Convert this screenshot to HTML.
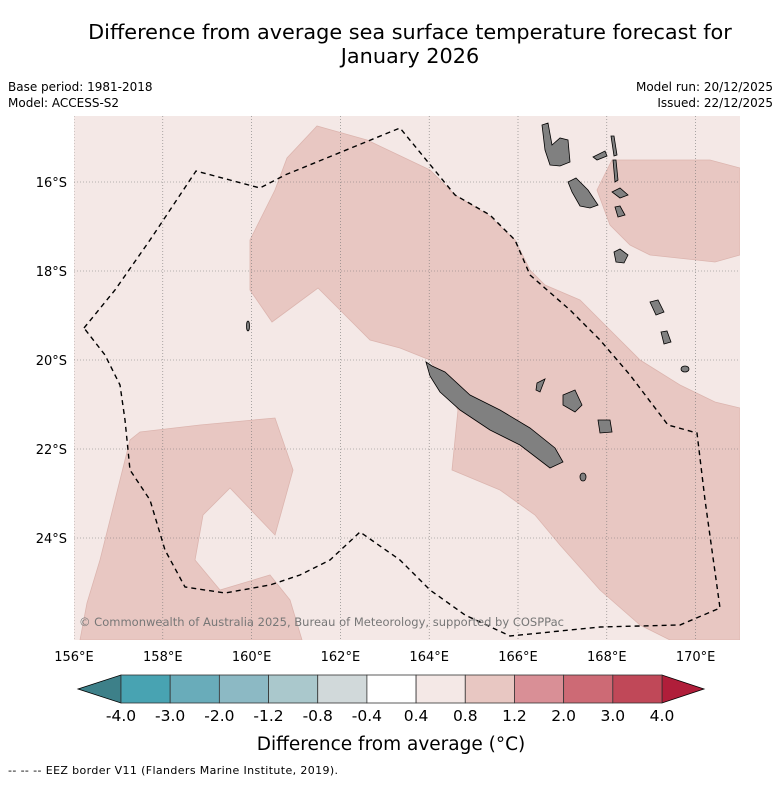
<!DOCTYPE html>
<html><head><meta charset="utf-8"><style>
body{margin:0;background:#fff;width:781px;height:781px;overflow:hidden;font-family:"DejaVu Sans","Liberation Sans",sans-serif}
svg text{font-family:"DejaVu Sans","Liberation Sans",sans-serif}
</style></head><body>
<svg width="781" height="781" xmlns="http://www.w3.org/2000/svg">
<text x="410" y="39" font-size="20.8" text-anchor="middle">Difference from average sea surface temperature forecast for</text>
<text x="410" y="63" font-size="20.8" text-anchor="middle">January 2026</text>
<text x="8" y="91" font-size="12">Base period: 1981-2018</text>
<text x="8" y="107" font-size="12">Model: ACCESS-S2</text>
<text x="773" y="91" font-size="12" text-anchor="end">Model run: 20/12/2025</text>
<text x="773" y="107" font-size="12" text-anchor="end">Issued: 22/12/2025</text>
<defs><clipPath id="mc"><rect x="74" y="116" width="666" height="524"/></clipPath></defs>
<g clip-path="url(#mc)">
<rect x="74" y="116" width="666" height="524" fill="#f4e8e6"/>
<g fill="#e8c7c2" stroke="#dcb5af" stroke-width="0.8">
<polygon points="250,240 275,190 287,158 317,126 367,140 430,170 455,195 488,215 515,240 530,270 545,285 580,300 610,330 640,360 680,385 715,402 740,408 740,640 670,640 640,625 600,590 560,545 535,515 500,490 452,470 458,410 430,360 400,348 370,340 340,310 318,288 272,322 250,290"/>
<polygon points="597,190 612,160 650,160 710,160 740,168 740,255 715,262 650,255 630,245 610,225"/>
<polygon points="87,603 100,560 115,500 130,440 140,432 200,425 275,418 293,470 275,535 230,488 203,515 195,560 220,590 270,575 290,600 302,640 80,640"/>
</g>
<g id="grid" stroke="#777" stroke-width="0.6" stroke-dasharray="1,2"></g>
<g fill="#808080" stroke="#000" stroke-width="0.8">
<polygon points="426,362 432,366 445,372 470,395 500,410 530,428 555,448 563,462 550,468 520,445 490,430 460,410 440,392 430,376"/>
<polygon points="542,125 548,123 552,145 560,138 568,140 570,162 560,166 550,165 545,150"/>
<polygon points="568,182 576,178 588,190 598,205 590,208 580,206 572,192"/>
<polygon points="612,192 620,188 628,195 620,198"/>
<polygon points="615,207 620,206 625,215 618,217"/>
<polygon points="614,252 620,249 628,255 624,263 616,262"/>
<polygon points="611,136 614,136 617,155 614,156"/>
<polygon points="593,157 605,151 607,156 597,160"/>
<polygon points="613,160 616,160 618,180 615,182"/>
<polygon points="563,395 575,390 582,405 575,412 563,405"/>
<polygon points="598,420 610,420 612,432 600,433"/>
<polygon points="537,383 545,379 540,392 536,390"/>
<polygon points="650,302 658,300 664,312 656,315"/>
<polygon points="661,332 667,331 671,342 664,344"/>
<ellipse cx="685" cy="369" rx="4" ry="3"/>
<ellipse cx="583" cy="477" rx="3" ry="4"/>
<ellipse cx="248" cy="326" rx="1.5" ry="5"/>
</g>
<polyline fill="none" stroke="#000" stroke-width="1.4" stroke-dasharray="5,4" points="84,328 115,290 150,240 196,171 260,188 285,175 400,128 455,195 490,215 515,240 530,275 570,310 600,340 630,375 668,425 697,433 705,500 720,608 680,625 600,627 510,636 465,615 430,590 400,560 360,532 330,560 300,575 270,585 225,593 185,587 165,550 150,500 130,470 125,420 120,385 105,355 84,328"/>
<text x="79" y="626" font-size="11.5" fill="#777" textLength="485">© Commonwealth of Australia 2025, Bureau of Meteorology, supported by COSPPac</text>
</g>
<g id="ticks"></g>
<g id="cbar"></g>
<text x="391" y="750" font-size="18.5" text-anchor="middle">Difference from average (°C)</text>
<text x="8" y="774" font-size="11" textLength="330">--  --  -- EEZ border V11 (Flanders Marine Institute, 2019).</text>
</svg>
<script>
const lons=[156,158,160,162,164,166,168,170];
const lats=[16,18,20,22,24];
const cbTicks=["-4.0","-3.0","-2.0","-1.2","-0.8","-0.4","0.4","0.8","1.2","2.0","3.0","4.0"];
const cbColors=["#48a3b2","#69acba","#8cb9c4","#aac8cc","#d1d9da","#ffffff","#f4e8e6","#e8c7c2","#d98f96","#cd6a75","#c04858"];
const NS="http://www.w3.org/2000/svg";
function X(lon){return 74+(lon-156)*44.4;}
function Y(lat){return 182+(lat-16)*44.5;}
function mk(t,a,p){const e=document.createElementNS(NS,t);for(const k in a)e.setAttribute(k,a[k]);p.appendChild(e);return e;}
const grid=document.getElementById('grid'),ticks=document.getElementById('ticks');
lons.forEach(l=>{
 const ln=mk('line',{x1:X(l),x2:X(l),y1:116,y2:640},grid);
 
 
 const t=mk('text',{x:X(l),y:661,'font-size':13,'text-anchor':'middle'},ticks);t.textContent=l+'°E';
 
 
});
lats.forEach(l=>{
 const ln=mk('line',{x1:74,x2:740,y1:Y(l),y2:Y(l)},grid);
 
 
 const t=mk('text',{x:67,y:Y(l)+5,'font-size':13,'text-anchor':'end'},ticks);t.textContent=l+'°S';
 
 
});
const cb=document.getElementById('cbar');
const x0=121,x1=662,y0=675,y1=703,w=(x1-x0)/cbColors.length;
let tri=mk('polygon',{points:`${x0},${y0} ${x0},${y1} 78,689`,fill:'#3d8089',stroke:'#000','stroke-width':0.8},cb);


tri=mk('polygon',{points:`${x1},${y0} ${x1},${y1} 704,689`,fill:'#b01e3a',stroke:'#000','stroke-width':0.8},cb);


cbColors.forEach((c,i)=>{
 const r=mk('rect',{x:x0+i*w,y:y0,width:w,height:y1-y0,fill:c,stroke:'#333','stroke-width':0.8},cb);
 
 
});
cbTicks.forEach((t,i)=>{
 const e=mk('text',{x:x0+i*w,y:721,'font-size':15.5,'text-anchor':'middle'},cb);e.textContent=t;
 
 
});
</script>
</body></html>
